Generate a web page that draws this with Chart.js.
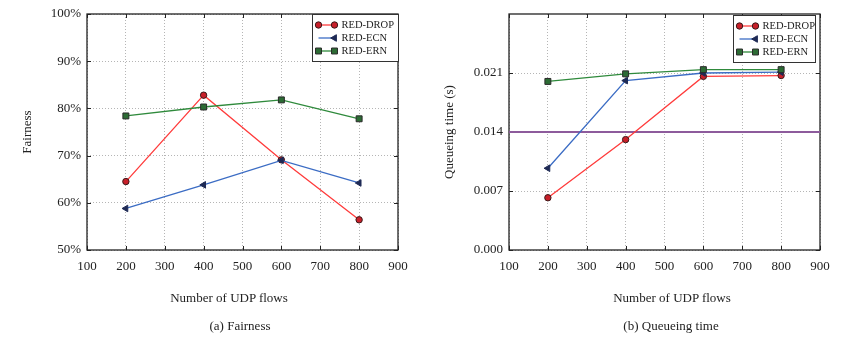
<!DOCTYPE html>
<html><head><meta charset="utf-8">
<script src="https://cdn.jsdelivr.net/npm/chart.js@4"></script>
<style>
body{margin:0;background:#fff;width:844px;height:350px;overflow:hidden;position:relative}
.wrap{position:absolute;top:0;width:422px;height:350px}
.lbl{position:absolute;font:13px "Liberation Serif";color:#222;white-space:nowrap;transform:translateX(-50%);line-height:16px}
</style></head><body>
<div class="wrap" style="left:0"><canvas id="c1" width="422" height="350"></canvas></div>
<div class="wrap" style="left:422px"><canvas id="c2" width="422" height="350"></canvas></div>
<div class="lbl" id="xt1" style="left:229px;top:290px"></div>
<div class="lbl" id="xt2" style="left:672px;top:290px"></div>
<div class="lbl" id="cap1" style="left:240px;top:318px"></div>
<div class="lbl" id="cap2" style="left:671px;top:318px"></div>
<script>
// ---- data ----
const flows = [200, 400, 600, 800];
const seriesNames = ['RED-DROP', 'RED-ECN', 'RED-ERN'];
const fairDrop = [64.5, 82.8, 69.1, 56.4];
const fairEcn  = [58.8, 63.8, 69.0, 64.2];
const fairErn  = [78.4, 80.3, 81.8, 77.8];
const queueDrop = [0.0062, 0.0131, 0.0206, 0.0207];
const queueEcn  = [0.0097, 0.0201, 0.0210, 0.0211];
const queueErn  = [0.0200, 0.0209, 0.0214, 0.0214];
const queueRefX = [100, 900];
const queueRefY = [0.014, 0.014];
const xTicks = [100, 200, 300, 400, 500, 600, 700, 800, 900];
const fairTicks = [50, 60, 70, 80, 90, 100];
const queueTicks = [0, 0.007, 0.014, 0.021];
const xTitle = 'Number of UDP flows';
const captions = ['(a) Fairness', '(b) Queueing time'];

document.getElementById('xt1').textContent = xTitle;
document.getElementById('xt2').textContent = xTitle;
document.getElementById('cap1').textContent = captions[0];
document.getElementById('cap2').textContent = captions[1];

// ---- styles ----
const FONT = 'Liberation Serif';
const TXT = '#222';
const styles = [
  {line:'#ff3b3b', fill:'#c8202a', border:'#3a1a1a', shape:'circle', radius:3.2, rot:0},
  {line:'#3b6cc4', fill:'#1e2a55', border:'#1e2a55', shape:'triangle', radius:3.8, rot:-90},
  {line:'#2f8a3c', fill:'#2c6b34', border:'#2a2a2a', shape:'rect', radius:4.2, rot:0}
];

function pts(xs, ys){ return xs.map((x,i)=>({x:x, y:ys[i]})); }

function mkDatasets(arrs){
  return arrs.map((ys,i)=>({
    label: seriesNames[i],
    data: pts(flows, ys),
    borderColor: styles[i].line,
    backgroundColor: styles[i].fill,
    pointBackgroundColor: styles[i].fill,
    pointBorderColor: styles[i].border,
    pointBorderWidth: 1,
    pointStyle: styles[i].shape,
    pointRadius: styles[i].radius,
    pointRotation: styles[i].rot,
    borderWidth: 1.3,
    tension: 0,
    order: 3 - i
  }));
}

const framePlugin = {
  id: 'frame',
  beforeDatasetsDraw(chart){
    const {ctx, chartArea:a, scales} = chart;
    ctx.save();
    ctx.strokeStyle = '#222';
    ctx.lineWidth = 1.3;
    ctx.strokeRect(a.left, a.top, a.right - a.left, a.bottom - a.top);
    ctx.lineWidth = 1;
    ctx.beginPath();
    scales.x.ticks.forEach(t=>{
      const px = Math.round(scales.x.getPixelForValue(t.value)) + 0.5;
      ctx.moveTo(px, a.bottom); ctx.lineTo(px, a.bottom - 4);
      ctx.moveTo(px, a.top); ctx.lineTo(px, a.top + 4);
    });
    scales.y.ticks.forEach(t=>{
      const py = Math.round(scales.y.getPixelForValue(t.value)) + 0.5;
      ctx.moveTo(a.left, py); ctx.lineTo(a.left + 4, py);
      ctx.moveTo(a.right, py); ctx.lineTo(a.right - 4, py);
    });
    ctx.stroke();
    ctx.restore();
  }
};

const boxLegend = {
  id: 'boxLegend',
  afterDraw(chart, args, opts){
    const {ctx, chartArea:a} = chart;
    const w = opts.w, h = 47;
    const x = Math.round(a.right - w - opts.right) + 0.5;
    const y = Math.round(a.top + opts.top) + 0.5;
    ctx.save();
    ctx.fillStyle = '#fff';
    ctx.fillRect(x, y, w, h);
    ctx.strokeStyle = '#333';
    ctx.lineWidth = 1;
    ctx.strokeRect(x, y, w, h);
    ctx.font = '10.5px "' + FONT + '"';
    ctx.textBaseline = 'middle';
    ctx.textAlign = 'left';
    chart.data.datasets.forEach((ds, i)=>{
      if (ds.hideInLegend) return;
      const st = styles[i];
      const yy = y + 10.5 + i * 13;
      const x0 = x + 6, x1 = x + 22;
      ctx.strokeStyle = st.line; ctx.lineWidth = 1.3;
      ctx.beginPath(); ctx.moveTo(x0, yy); ctx.lineTo(x1, yy); ctx.stroke();
      ctx.fillStyle = st.fill; ctx.strokeStyle = st.border; ctx.lineWidth = 1;
      const o = {pointStyle: st.shape, radius: st.radius, rotation: st.rot, borderWidth: 1};
      if (st.shape !== 'triangle') Chart.helpers.drawPoint(ctx, o, x0, yy);
      Chart.helpers.drawPoint(ctx, o, x1, yy);
      ctx.fillStyle = TXT;
      ctx.fillText(ds.label, x + 29, yy + 0.5);
    });
    ctx.restore();
  }
};

function baseOptions(yTicks, yMin, yMax, yTitle, fmt, legendOpts){
  const gridCol = '#b5b5b5';
  return {
    responsive: false,
    animation: false,
    devicePixelRatio: 1,
    layout: {padding: {left: 0, right: 24, top: 14, bottom: 32}},
    plugins: {
      legend: {display: false},
      tooltip: {enabled: false},
      title: {display: false},
      boxLegend: legendOpts
    },
    scales: {
      x: {
        type: 'linear', min: 100, max: 900,
        afterBuildTicks: s => { s.ticks = xTicks.map(v=>({value:v})); },
        afterFit: s => { s.height = 68; },
        ticks: {color: TXT, font: {family: FONT, size: 13}, padding: 9, maxRotation: 0,
                callback: v => String(v)},
        grid: {color: gridCol, lineWidth: 1, drawTicks: false},
        border: {display: false, dash: [1, 2]},
        title: {display: false}
      },
      y: {
        type: 'linear', min: yMin, max: yMax,
        afterBuildTicks: s => { s.ticks = yTicks.map(v=>({value:v})); },
        afterFit: s => { s.width = 87; },
        ticks: {color: TXT, font: {family: FONT, size: 13}, padding: 6, callback: fmt},
        grid: {color: gridCol, lineWidth: 1, drawTicks: false},
        border: {display: false, dash: [1, 2]},
        title: {display: true, text: yTitle, color: TXT,
                font: {family: FONT, size: 13}, padding: {top: 20, bottom: 0}}
      }
    }
  };
}

new Chart(document.getElementById('c1'), {
  type: 'line',
  data: {datasets: mkDatasets([fairDrop, fairEcn, fairErn])},
  options: baseOptions(fairTicks, 50, 100, 'Fairness', v => v + '%', {w: 86, right: 0, top: 0}),
  plugins: [framePlugin, boxLegend]
});

const qSets = mkDatasets([queueDrop, queueEcn, queueErn]);
qSets.push({
  label: 'ref', hideInLegend: true,
  data: pts(queueRefX, queueRefY),
  borderColor: '#8d5b9c', borderWidth: 2, pointRadius: 0, order: 5
});
new Chart(document.getElementById('c2'), {
  type: 'line',
  data: {datasets: qSets},
  options: baseOptions(queueTicks, 0, 0.028, 'Queueing time (s)', v => Number(v).toFixed(3), {w: 82, right: 5, top: 1}),
  plugins: [framePlugin, boxLegend]
});
</script>
</body></html>
